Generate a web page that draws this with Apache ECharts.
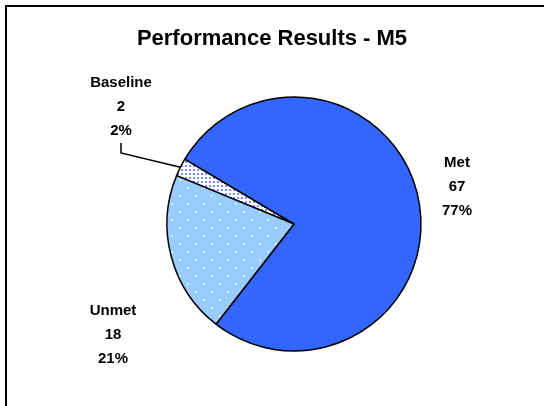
<!DOCTYPE html>
<html>
<head>
<meta charset="utf-8">
<script src="https://cdn.jsdelivr.net/npm/echarts@6/dist/echarts.min.js"></script>
<style>
  html, body { margin: 0; padding: 0; background: #fff; }
  #chart { width: 544px; height: 406px; }
</style>
</head>
<body>
<div id="chart"></div>
<script>
// data
var categories = ['Baseline', 'Met', 'Unmet'];
var counts = [2, 67, 18];
var percents = ['2%', '77%', '21%'];

// label centres for each slice (x, y of first line)
var labelPos = {
  Baseline: [121, 71],
  Met: [457, 151],
  Unmet: [113, 299]
};

// fill patterns
function makePattern(size, bg, dot, pts, r) {
  var c = document.createElement('canvas');
  c.width = size; c.height = size;
  var ctx = c.getContext('2d');
  ctx.fillStyle = bg;
  ctx.fillRect(0, 0, size, size);
  ctx.fillStyle = dot;
  pts.forEach(function (p) {
    ctx.beginPath();
    ctx.arc(p[0], p[1], r, 0, Math.PI * 2);
    ctx.fill();
  });
  return { image: c, repeat: 'repeat' };
}
var unmetFill = makePattern(16, '#99CCFF', '#ffffff', [[4, 4], [12, 12]], 0.9);
var baseFill = makePattern(4, '#ffffff', '#5577ff', [[2, 2]], 1.1);

var colors = [baseFill, '#3366FF', unmetFill];

var myChart = echarts.init(document.getElementById('chart'));

var option = {
  animation: false,
  title: {
    text: 'Performance Results - M5',
    left: 'center',
    top: 23,
    textStyle: {
      fontFamily: 'Liberation Sans',
      fontSize: 22,
      fontWeight: 'bold',
      color: '#000'
    }
  },
  graphic: [{
    type: 'rect',
    shape: { x: 6, y: 6, width: 700, height: 600 },
    style: { fill: 'none', stroke: '#000', lineWidth: 2 },
    silent: true
  }],
  series: [{
    type: 'pie',
    center: [294, 224],
    radius: 127,
    startAngle: 157.6,
    clockwise: true,
    data: categories.map(function (name, i) {
      return {
        name: name,
        value: counts[i],
        itemStyle: { color: colors[i] },
        labelLine: { show: name === 'Baseline' }
      };
    }),
    itemStyle: {
      borderColor: '#000',
      borderWidth: 1.5
    },
    label: {
      show: true,
      position: 'outside',
      formatter: function (p) {
        return p.name + '\n' + p.value + '\n' + percents[p.dataIndex];
      },
      fontFamily: 'Liberation Sans',
      fontSize: 15,
      fontWeight: 'bold',
      lineHeight: 24,
      align: 'center',
      color: '#000'
    },
    labelLine: {
      length: 10,
      length2: 10,
      lineStyle: { color: '#000', width: 1.5 }
    },
    labelLayout: function (params) {
      var name = categories[params.dataIndex];
      var pos = labelPos[name];
      return {
        x: pos[0],
        y: pos[1],
        align: 'center',
        verticalAlign: 'top'
      };
    }
  }]
};

myChart.setOption(option);
</script>
</body>
</html>
